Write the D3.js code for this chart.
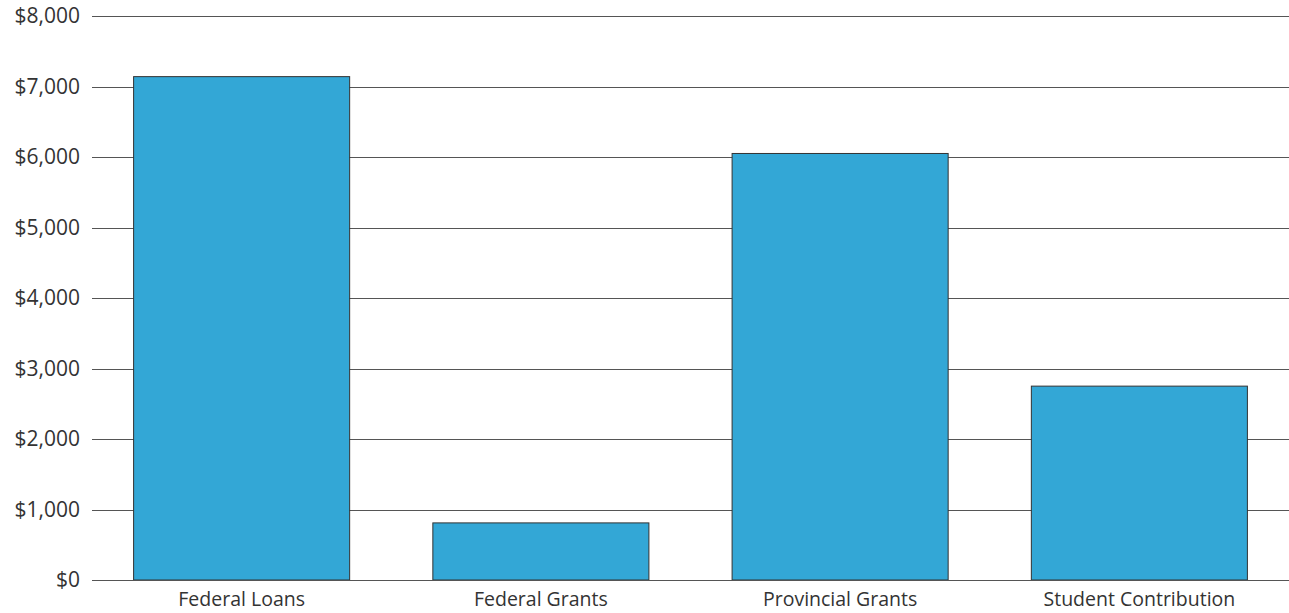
<!DOCTYPE html>
<html>
<head>
<meta charset="utf-8">
<script src="https://cdn.jsdelivr.net/npm/d3@7"></script>
<style>
  html, body { margin: 0; padding: 0; background: #fff; }
  svg { display: block; }
  text { font-family: "Open Sans", "Noto Sans", sans-serif; fill: #333; }
</style>
</head>
<body>
<svg id="chart" width="1289" height="613"></svg>
<script>
// Average funding by source
const categories = ["Federal Loans", "Federal Grants", "Provincial Grants", "Student Contribution"];
const amounts = [7140, 810, 6050, 2750];
const yTicks = [0, 1000, 2000, 3000, 4000, 5000, 6000, 7000, 8000];

const W = 1289, H = 613;
const margin = { top: 16, right: 0, bottom: 33, left: 92 };

const svg = d3.select("#chart");

const x = d3.scaleBand()
  .domain(categories)
  .range([margin.left, W - margin.right])
  .paddingInner(0.278)
  .paddingOuter(0.139);

const y = d3.scaleLinear()
  .domain([0, 8000])
  .range([H - margin.bottom, margin.top]);

const fmt = v => "$" + d3.format(",")(v);

// Horizontal gridlines with dollar labels
const yAxis = d3.axisLeft(y)
  .tickValues(yTicks)
  .tickFormat(fmt)
  .tickSize(-(W - margin.left - margin.right))
  .tickPadding(12);

const gy = svg.append("g")
  .attr("transform", `translate(${margin.left},0)`)
  .call(yAxis);
gy.select(".domain").remove();
gy.selectAll(".tick line")
  .attr("stroke", "#555")
  .attr("stroke-width", 1)
  .attr("shape-rendering", "crispEdges");
gy.selectAll(".tick text")
  .attr("font-size", 21)
  .attr("fill", "#333");

// Bars
svg.append("g")
  .selectAll("rect")
  .data(categories)
  .join("rect")
  .attr("x", d => x(d))
  .attr("width", x.bandwidth())
  .attr("y", (d, i) => y(amounts[i]))
  .attr("height", (d, i) => y(0) - y(amounts[i]))
  .attr("fill", "#33a7d6")
  .attr("stroke", "#333")
  .attr("stroke-width", 1);

// Baseline and category labels
const xAxis = d3.axisBottom(x).tickSize(0).tickPadding(12);
const gx = svg.append("g")
  .attr("transform", `translate(0,${y(0)})`)
  .call(xAxis);
gx.select(".domain")
  .attr("stroke", "#555")
  .attr("shape-rendering", "crispEdges");
gx.selectAll(".tick text")
  .attr("font-size", 19.5)
  .attr("fill", "#333");
</script>
</body>
</html>
